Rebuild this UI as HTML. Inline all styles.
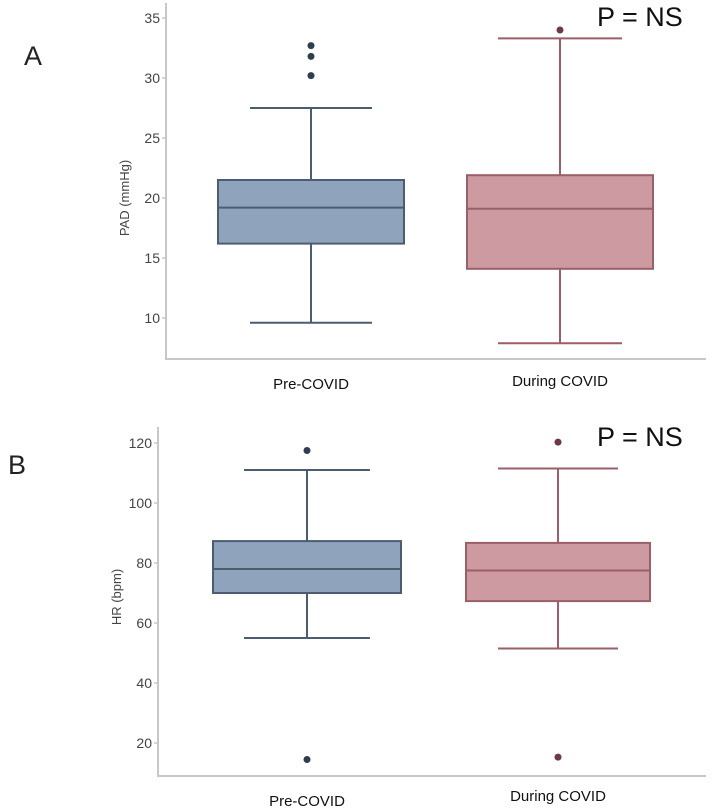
<!DOCTYPE html>
<html><head><meta charset="utf-8"><style>
body{margin:0;background:#fff;}
svg{display:block;font-family:"Liberation Sans",sans-serif;}
</style></head><body>
<svg id="chart" width="722" height="808" viewBox="0 0 722 808"></svg>
<script>
const categories = ["Pre-COVID", "During COVID"];
// panel A: PAD (mmHg)
const padTicks = [10, 15, 20, 25, 30, 35];
const padWhiskLow = [9.6, 7.9];
const padQ1 = [16.2, 14.1];
const padMedian = [19.2, 19.1];
const padQ3 = [21.5, 21.9];
const padWhiskHigh = [27.5, 33.3];
const padOutliers = [[30.2, 31.8, 32.7], [34.0]];
// panel B: HR (bpm)
const hrTicks = [20, 40, 60, 80, 100, 120];
const hrWhiskLow = [55, 51.5];
const hrQ1 = [70, 67.3];
const hrMedian = [78, 77.5];
const hrQ3 = [87.3, 86.7];
const hrWhiskHigh = [111, 111.5];
const hrOutliers = [[117.5, 14.5], [120.3, 15.3]];

const NS = "http://www.w3.org/2000/svg";
const svg = document.getElementById("chart");
function mk(tag, attrs, parent) {
  const e = document.createElementNS(NS, tag);
  for (const k in attrs) e.setAttribute(k, attrs[k]);
  (parent || svg).appendChild(e);
  return e;
}
const fills = ["#8fa3bd", "#cc9aa0"];
const strokes = ["#4d5d70", "#9a5f68"];
const dotCols = ["#2c3e50", "#6b3a44"];

function panel(cfg) {
  const g = mk("g", {});
  
  
  const y = v => cfg.y0 - (v - cfg.v0) * cfg.scale;
  const ax = mk("path", {d: `M${cfg.axX} ${cfg.axTop} V${cfg.axBottom} H${cfg.axRight}`, stroke: "#c8c8c8", "stroke-width": 2, fill: "none"}, g);
  
  
  cfg.ticks.forEach(t => {
    const tl = mk("line", {x1: cfg.axX - 4, x2: cfg.axX, y1: y(t), y2: y(t), stroke: "#c8c8c8", "stroke-width": 1.5}, g);
    
    
    const tx = mk("text", {x: cfg.axX - 6, y: y(t) + 5, "text-anchor": "end", "font-size": 14, fill: "#444"}, g);
    tx.textContent = t;
    
    
  });
  const yt = mk("text", {transform: `translate(${cfg.axX - 37},${cfg.titleY}) rotate(-90)`, "text-anchor": "middle", "font-size": 13, fill: "#444"}, g);
  yt.textContent = cfg.title;
  
  
  categories.forEach((c, i) => {
    const b = cfg.boxes[i];
    const cx = b.cx;
    const bg = mk("g", {}, g);
    
    
    mk("line", {x1: cx, x2: cx, y1: y(cfg.hi[i]), y2: y(cfg.q3[i]), stroke: strokes[i], "stroke-width": 2}, bg);
    mk("line", {x1: cx, x2: cx, y1: y(cfg.q1[i]), y2: y(cfg.lo[i]), stroke: strokes[i], "stroke-width": 2}, bg);
    mk("line", {x1: cx - b.cap, x2: cx + b.cap, y1: y(cfg.hi[i]), y2: y(cfg.hi[i]), stroke: strokes[i], "stroke-width": 2}, bg);
    mk("line", {x1: cx - b.cap, x2: cx + b.cap, y1: y(cfg.lo[i]), y2: y(cfg.lo[i]), stroke: strokes[i], "stroke-width": 2}, bg);
    mk("rect", {x: cx - b.hw, y: y(cfg.q3[i]), width: b.hw * 2, height: y(cfg.q1[i]) - y(cfg.q3[i]), fill: fills[i], stroke: strokes[i], "stroke-width": 2}, bg);
    mk("line", {x1: cx - b.hw, x2: cx + b.hw, y1: y(cfg.med[i]), y2: y(cfg.med[i]), stroke: strokes[i], "stroke-width": 2}, bg);
    cfg.out[i].forEach(v => {
      const d = mk("circle", {cx: cx, cy: y(v), r: 3.5, fill: dotCols[i]}, bg);
      
      
    });
    const lb = mk("text", {x: cx, y: cfg.labelY[i], "text-anchor": "middle", "font-size": 15, fill: "#111"}, g);
    lb.textContent = c;
    
    
  });
  const p = mk("text", {x: 597, y: cfg.pY, "font-size": 27, fill: "#111"}, g);
  p.textContent = "P = NS";
  
  
  const L = mk("text", {x: cfg.letterX, y: cfg.letterY, "font-size": 27, fill: "#222"}, g);
  L.textContent = cfg.letter;
  
  
}

panel({name: "panel-a-pad", v0: 10, y0: 318, scale: 12, axX: 166, axTop: 3, axBottom: 359, axRight: 706,
  ticks: padTicks, title: "PAD (mmHg)", titleY: 198,
  lo: padWhiskLow, q1: padQ1, med: padMedian, q3: padQ3, hi: padWhiskHigh, out: padOutliers,
  boxes: [{cx: 311, hw: 93, cap: 61}, {cx: 560, hw: 93, cap: 62}],
  labelY: [389, 386], pY: 26, letter: "A", letterX: 24, letterY: 65});

panel({name: "panel-b-hr", v0: 20, y0: 743, scale: 3, axX: 158, axTop: 427, axBottom: 776, axRight: 706,
  ticks: hrTicks, title: "HR (bpm)", titleY: 597,
  lo: hrWhiskLow, q1: hrQ1, med: hrMedian, q3: hrQ3, hi: hrWhiskHigh, out: hrOutliers,
  boxes: [{cx: 307, hw: 94, cap: 63}, {cx: 558, hw: 92, cap: 60}],
  labelY: [806, 801], pY: 446, letter: "B", letterX: 8, letterY: 474});
</script>
</body></html>
